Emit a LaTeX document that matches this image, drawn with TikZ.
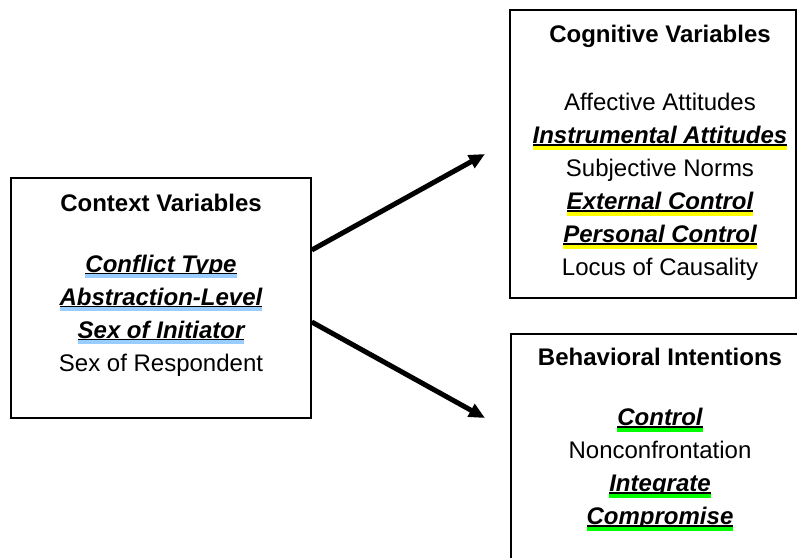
\documentclass[tikz,border=0pt]{standalone}
\usepackage{fontspec}
\setmainfont{Liberation Sans}
\usepackage{xcolor}
\usetikzlibrary{arrows.meta}

\definecolor{ctxline}{RGB}{153,204,255}
\definecolor{cogline}{RGB}{255,255,0}
\definecolor{behline}{RGB}{0,255,0}

% bold italic entry, black underline with a coloured bar below it
\newcommand{\keyvar}[2]{%
  \setbox0=\hbox{\bfseries\itshape #2}%
  \leavevmode\rlap{\copy0}%
  \rlap{\rule[-1bp]{\wd0}{0.8bp}}%
  {\color{#1}\rule[-2.9bp]{\wd0}{1.9bp}}}

\begin{document}
\begin{tikzpicture}[x=0.5bp,y=0.5bp,font=\fontsize{12bp}{16.5bp}\selectfont,
    box/.style={draw,line width=0.8bp},
    head/.style={execute at begin node=\bfseries},
    list/.style={align=center,inner sep=0pt},
    flow/.style={-{Triangle[length=8bp,width=7bp]},line width=2.5bp}]
    \useasboundingbox (0,0) rectangle (797,-558);
    \clip (0,0) rectangle (797,-558);

    \node[box,minimum width=150bp,minimum height=120bp] (ctx) at (161,-298) {};
    \node[box,minimum width=143bp,minimum height=144bp] (cog) at (653,-154) {};
    \node[box,anchor=north west,minimum width=160bp,minimum height=140bp] (beh) at (510,-333) {};

    \node[head] (ctxhead) at (161,-203) {Context Variables};
    \node[list] (ctxlist) at (161,-315.5) {\keyvar{ctxline}{Conflict Type}\\
        \keyvar{ctxline}{Abstraction-Level}\\ \keyvar{ctxline}{Sex of Initiator}\\
        Sex of Respondent};

    \node[head] (coghead) at (660,-36) {Cognitive Variables};
    \node[list] (coglist) at (660,-187) {Affective Attitudes\\
        \keyvar{cogline}{Instrumental Attitudes}\\ Subjective Norms\\
        \keyvar{cogline}{External Control}\\ \keyvar{cogline}{Personal Control}\\
        Locus of Causality};

    \node[head] (behhead) at (660,-357) {Behavioral Intentions};
    \node[list] (behlist) at (660,-469.5) {\keyvar{behline}{Control}\\
        Nonconfrontation\\ \keyvar{behline}{Integrate}\\ \keyvar{behline}{Compromise}};

    \coordinate (cogin) at (485,-154);
    \coordinate (behin) at (485,-418);
    \draw[flow] ([yshift=24bp]ctx.east) -- (cogin);
    \draw[flow] ([yshift=-12bp]ctx.east) -- (behin);
\end{tikzpicture}
\end{document}
